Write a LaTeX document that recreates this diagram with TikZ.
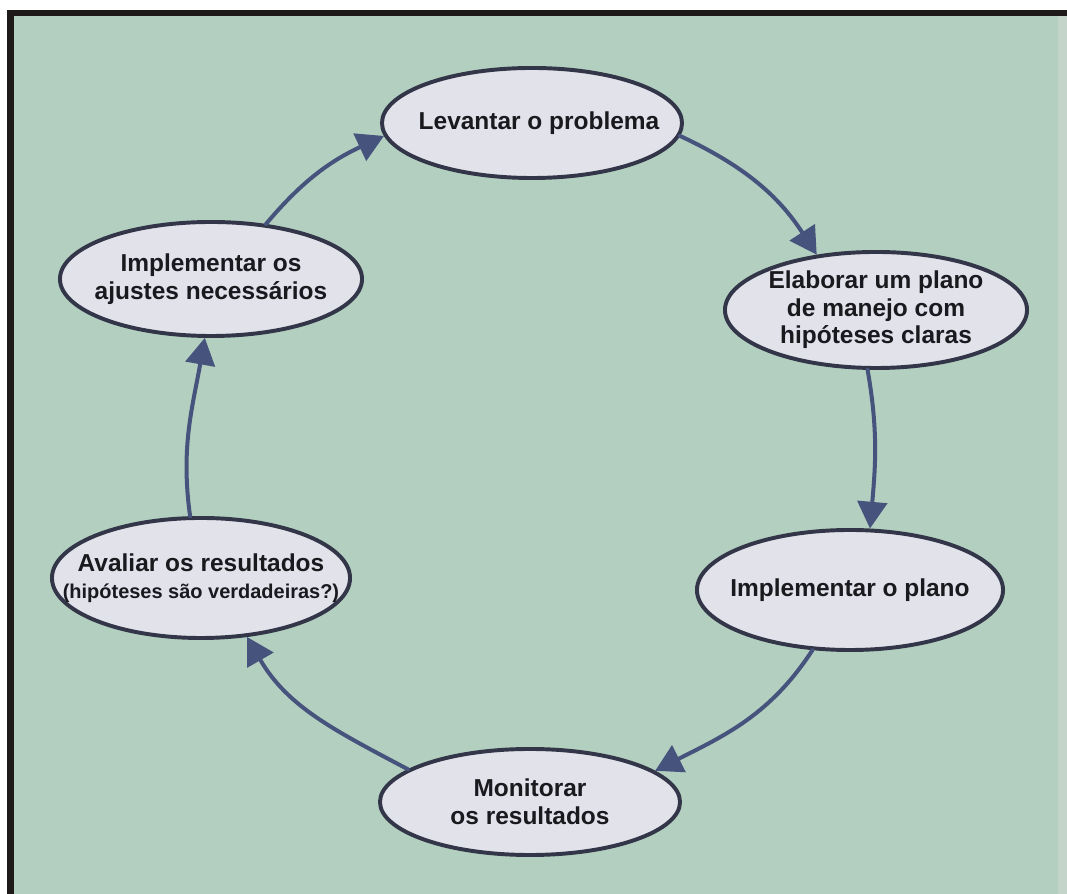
\documentclass[tikz,border=0pt]{standalone}
\usepackage{fontspec}
\setmainfont{Liberation Sans}
\usetikzlibrary{shapes.geometric,arrows.meta}
\definecolor{bggreen}{RGB}{179,207,192}
\definecolor{bubble}{RGB}{225,226,234}
\definecolor{rim}{RGB}{50,54,72}
\definecolor{flow}{RGB}{70,84,125}
\definecolor{frame}{RGB}{30,26,26}
\definecolor{strip}{RGB}{196,212,203}

\begin{document}
\begin{tikzpicture}[x=0.025cm, y=0.025cm, line cap=round, line join=round, font=\bfseries\fontsize{17.4}{19.6}\selectfont, >={Triangle[length=19pt,width=21pt]}]
	\tikzset{phase/.style={ellipse, draw=rim, fill=bubble, line width=2.8pt, inner sep=0pt},
		txt/.style={align=center, text={rgb,255:red,25;green,25;blue,30}},
		cycle/.style={->, draw=flow, line width=2.85pt}}
	\useasboundingbox (0,0) rectangle (1067,894);
	% frame and background
	\fill[white] (0,0) rectangle (1067,894);
	\fill[frame] (7,0) rectangle (1067,884);
	\fill[bggreen] (14,0) rectangle (1067,878);
	\fill[strip] (1058,0) rectangle (1067,878);
	% steps of the cycle
	\node[phase, minimum width=7.5cm, minimum height=2.75cm, label={[txt, xshift=5pt]center:Levantar o problema}] (levantar) at (532,771) {};
	\node[phase, minimum width=7.55cm, minimum height=2.9cm, label={[txt]center:Elaborar um plano\\de manejo com\\hipóteses claras}] (elaborar) at (876,584) {};
	\node[phase, minimum width=7.65cm, minimum height=3cm, label={[txt]center:Implementar o plano}] (implementar) at (850,304) {};
	\node[phase, minimum width=7.5cm, minimum height=2.65cm, label={[txt]center:Monitorar\\os resultados}] (monitorar) at (530,92) {};
	\node[phase, minimum width=7.45cm, minimum height=3cm, label={[txt]center:Avaliar os resultados\\{\fontsize{14.2}{17.8}\selectfont(hipóteses são verdadeiras?)}}] (avaliar) at (201,316) {};
	\node[phase, minimum width=7.55cm, minimum height=2.85cm, label={[txt]center:Implementar os\\ajustes necessários}] (ajustes) at (211,615) {};
	% arrows
	\draw[cycle] (ajustes.45) to[out=50, in=205] (levantar.185);
	\draw[cycle] (levantar.-5) to[out=-25, in=123] (elaborar.137);
	\draw[cycle] (elaborar.-98) to[out=-80, in=85] (implementar.72);
	\draw[cycle] (implementar.-122) to[out=237, in=27] (monitorar.14);
	\draw[cycle] (monitorar.165) to[out=152, in=-60] (avaliar.-52);
	\draw[cycle] (avaliar.100) to[out=98, in=-100] (ajustes.-96);
\end{tikzpicture}
\end{document}
